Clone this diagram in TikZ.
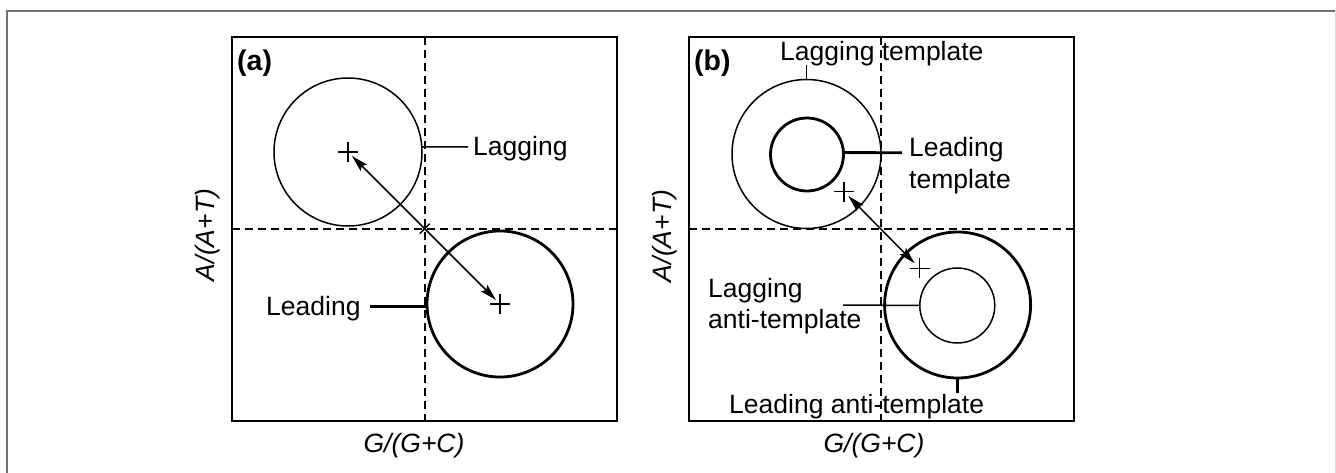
\documentclass[tikz,border=0pt]{standalone}
\usepackage{fontspec}
\setmainfont{Liberation Sans}
\usetikzlibrary{arrows.meta,shapes.misc}
\begin{document}
\begin{tikzpicture}[x=1pt,y=-1pt,
  thinln/.style={line width=1.5pt},
  thickln/.style={line width=2.8pt},
  boxln/.style={line width=1.7pt},
  dashln/.style={line width=1.6pt, dash pattern=on 8pt off 5pt},
  ring/.style={circle, draw, inner sep=0pt, outer sep=0pt},
  plusm/.style={cross out, draw, line width=1.3pt, rotate=45, minimum size=12.7pt, inner sep=0pt},
  lbl/.style={font=\fontsize{26.5}{31}\selectfont, inner sep=0pt},
  axl/.style={font=\fontsize{26.5}{31}\selectfont\itshape, inner sep=0pt},
  pnl/.style={font=\fontsize{28.5}{33}\selectfont\bfseries, inner sep=0pt},
  dbl/.style={thinln, {Stealth[length=17pt,width=9pt,inset=3pt]}-{Stealth[length=17pt,width=9pt,inset=3pt]}}
]
\useasboundingbox (0,0) rectangle (1336,473);
% outer frame
\draw[line width=1.8pt, draw=black!55] (7,473) -- (7,11) -- (1335,11);
\draw[line width=1pt, draw=black!15] (1335,11) -- (1335,473);

% ---------------- panel (a)
\draw[boxln] (232,37) rectangle (617,421);
\draw[dashln] (424.7,37) -- (424.7,421);
\draw[dashln] (232,229) -- (617,229);
\node[ring, thinln, minimum size=148pt] (a1) at (348,152) {};
\node[ring, thickln, minimum size=146pt] (a2) at (500,304) {};
\node[plusm] (ca1) at (348,152) {};
\node[plusm] (ca2) at (500,304) {};
\draw[dbl, shorten <=-1.5pt, shorten >=-1.5pt] (ca1) -- (ca2);
\coordinate (xa1) at (419.7,233.7);
\coordinate (xa2) at (429.7,223.7);
\draw[thinln] (xa1) -- (xa2);
\coordinate (lagE) at (468,147);
\draw[thinln] (a1.4) -- (lagE);
\coordinate (leadE) at (370,306.5);
\draw[thickln] (leadE) -- (a2.182);
\node[lbl, anchor=base west] (tlag) at (473,156) {Lagging};
\node[lbl, anchor=base west] (tlead) at (266,315) {Leading};
\node[pnl, anchor=base west] (pa) at (237,71) {(a)};
\node[axl, anchor=base] (xa) at (414,452) {G/(G+C)};
\node[axl, anchor=base, rotate=90] (ya) at (214,235) {A/(A+T)};

% ---------------- panel (b)
\draw[boxln] (689,37) rectangle (1074,421);
\draw[dashln] (881,37) -- (881,421);
\draw[dashln] (689,229) -- (1074,229);
\node[ring, thinln, minimum size=149pt] (b1) at (806.5,154) {};
\node[ring, thickln, minimum size=73pt] (b2) at (807,154.5) {};
\node[ring, thickln, minimum size=146pt] (b3) at (957.6,305) {};
\node[ring, thinln, minimum size=75pt] (b4) at (957.3,305.5) {};
\node[plusm] (cb1) at (844,191.7) {};
\node[plusm] (cb2) at (919.6,268.3) {};
\draw[dbl, shorten <=-1pt, shorten >=0pt] (cb1) -- (cb2);
\coordinate (lagtE) at (806.5,65);
\draw[thinln] (b1.north) -- (lagtE);
\coordinate (leadtE) at (902,152.7);
\draw[thickln] (b2.3) -- (leadtE);
\coordinate (lagaE) at (843,305);
\draw[thinln] (lagaE) -- (b4.west);
\coordinate (leadaE) at (957.5,393);
\draw[thickln] (b3.south) -- (leadaE);
\node[lbl, anchor=base west] (tb1) at (780,61) {Lagging template};
\node[lbl, anchor=base west] (tb2) at (909,157) {Leading};
\node[lbl, anchor=base west] (tb3) at (909,189) {template};
\node[lbl, anchor=base west] (tb4) at (708,297) {Lagging};
\node[lbl, anchor=base west] (tb5) at (708,328) {anti-template};
\node[lbl, anchor=base west] (tb6) at (729,413) {Leading anti-template};
\node[pnl, anchor=base west] (pb) at (694,71) {(b)};
\node[axl, anchor=base] (xb) at (874,452) {G/(G+C)};
\node[axl, anchor=base, rotate=90] (yb) at (671,236) {A/(A+T)};
\end{tikzpicture}
\end{document}
